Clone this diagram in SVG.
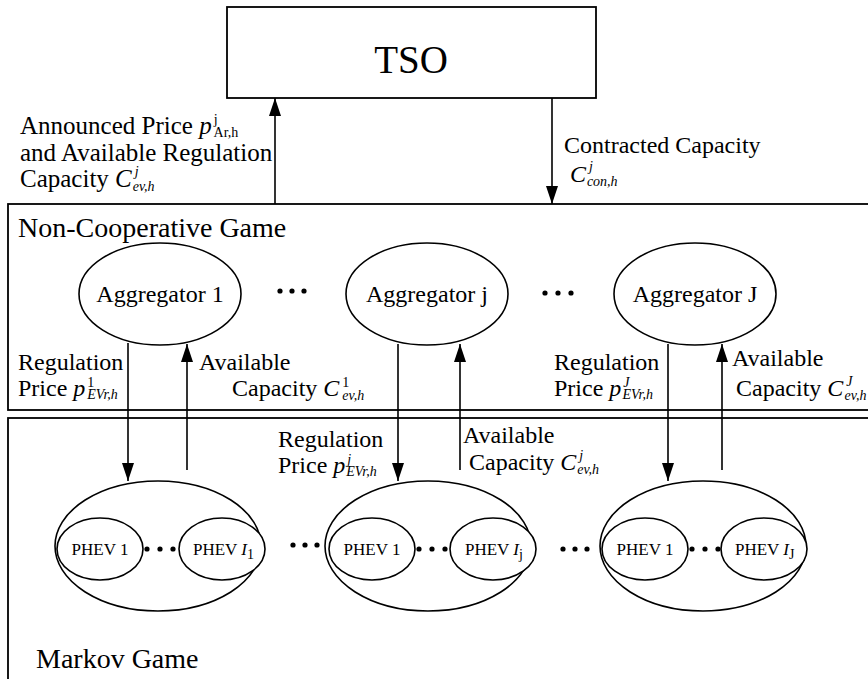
<svg xmlns="http://www.w3.org/2000/svg" width="868" height="679" viewBox="0 0 868 679">
<defs>
<marker id="ah" viewBox="0 0 18 12" refX="18" refY="6" markerWidth="18" markerHeight="12" markerUnits="userSpaceOnUse" orient="auto">
<path d="M0,0 L18,6 L0,12 z" fill="#000"/>
</marker>
<style>
text{font-family:"Liberation Serif","Times New Roman",serif;fill:#000}
.lbl{font-size:24px}
.big{font-size:25px}
.agg{font-size:24px}
.ph{font-size:17px}
.it{font-style:italic}
.sub{font-size:14px}
.sup{font-size:14px}
.box{fill:none;stroke:#000;stroke-width:1.8}
.el{fill:#fff;stroke:#000;stroke-width:1.6}
.ln{stroke:#000;stroke-width:1.6;fill:none}
.dot{fill:#000}
</style>
</defs>
<rect width="868" height="679" fill="#fff"/>

<g id="tso">
<rect class="box" x="227" y="7" width="369" height="91"/>
<text x="411" y="73" text-anchor="middle" style="font-size:39px">TSO</text>
</g>

<g id="noncoop">
<rect class="box" x="8" y="204" width="870" height="206"/>
<text x="18" y="237" style="font-size:28px">Non-Cooperative Game</text>
</g>

<g id="markov">
<rect class="box" x="8" y="418" width="870" height="280"/>
<text x="36" y="668" style="font-size:28px">Markov Game</text>
</g>

<g id="agg1">
<ellipse class="el" cx="160" cy="294" rx="81" ry="51"/>
<text class="agg" x="160" y="302" text-anchor="middle">Aggregator 1</text>
</g>
<g id="aggj">
<ellipse class="el" cx="427" cy="294" rx="81" ry="51"/>
<text class="agg" x="427" y="302" text-anchor="middle">Aggregator j</text>
</g>
<g id="aggJ">
<ellipse class="el" cx="695" cy="294" rx="81" ry="51"/>
<text class="agg" x="695" y="302" text-anchor="middle">Aggregator J</text>
</g>
<g id="aggdots">
<circle class="dot" cx="280" cy="291" r="2.6"/><circle class="dot" cx="292" cy="291" r="2.6"/><circle class="dot" cx="304" cy="291" r="2.6"/>
<circle class="dot" cx="545" cy="293" r="2.6"/><circle class="dot" cx="558" cy="293" r="2.6"/><circle class="dot" cx="571" cy="293" r="2.6"/>
</g>

<g id="group1">
<ellipse class="el" cx="158" cy="546" rx="103" ry="65"/>
<ellipse class="el" cx="100" cy="549" rx="43" ry="31"/>
<ellipse class="el" cx="222" cy="549" rx="43" ry="31"/>
<text class="ph" x="100" y="555" text-anchor="middle">PHEV 1</text>
<text class="ph" x="193" y="555">PHEV <tspan class="it">I</tspan><tspan class="sub" dy="4">1</tspan></text>
<circle class="dot" cx="147" cy="549" r="2.6"/><circle class="dot" cx="160" cy="549" r="2.6"/><circle class="dot" cx="173" cy="549" r="2.6"/>
</g>
<g id="groupj">
<ellipse class="el" cx="428" cy="546" rx="103" ry="65"/>
<ellipse class="el" cx="372" cy="549" rx="43" ry="31"/>
<ellipse class="el" cx="493" cy="549" rx="43" ry="31"/>
<text class="ph" x="372" y="555" text-anchor="middle">PHEV 1</text>
<text class="ph" x="465" y="555">PHEV <tspan class="it">I</tspan><tspan class="sub" dy="4">j</tspan></text>
<circle class="dot" cx="419" cy="549" r="2.6"/><circle class="dot" cx="432" cy="549" r="2.6"/><circle class="dot" cx="445" cy="549" r="2.6"/>
</g>
<g id="groupJ">
<ellipse class="el" cx="703" cy="546" rx="103" ry="65"/>
<ellipse class="el" cx="645" cy="549" rx="43" ry="31"/>
<ellipse class="el" cx="764" cy="549" rx="43" ry="31"/>
<text class="ph" x="645" y="555" text-anchor="middle">PHEV 1</text>
<text class="ph" x="735" y="555">PHEV <tspan class="it">I</tspan><tspan class="sub" dy="4">J</tspan></text>
<circle class="dot" cx="692" cy="549" r="2.6"/><circle class="dot" cx="705" cy="549" r="2.6"/><circle class="dot" cx="718" cy="549" r="2.6"/>
</g>
<g id="groupdots">
<circle class="dot" cx="293" cy="545" r="2.6"/><circle class="dot" cx="305" cy="545" r="2.6"/><circle class="dot" cx="317" cy="545" r="2.6"/>
<circle class="dot" cx="563" cy="549" r="2.6"/><circle class="dot" cx="575" cy="549" r="2.6"/><circle class="dot" cx="587" cy="549" r="2.6"/>
</g>

<g id="connectors">
<line class="ln" x1="275" y1="204" x2="275" y2="98" marker-end="url(#ah)"/>
<line class="ln" x1="552" y1="98" x2="552" y2="204" marker-end="url(#ah)"/>
<line class="ln" x1="128" y1="343" x2="128" y2="481" marker-end="url(#ah)"/>
<line class="ln" x1="187" y1="470" x2="187" y2="344" marker-end="url(#ah)"/>
<line class="ln" x1="398" y1="344" x2="398" y2="481" marker-end="url(#ah)"/>
<line class="ln" x1="460" y1="470" x2="460" y2="344" marker-end="url(#ah)"/>
<line class="ln" x1="668" y1="344" x2="668" y2="481" marker-end="url(#ah)"/>
<line class="ln" x1="722" y1="470" x2="722" y2="344" marker-end="url(#ah)"/>
</g>

<g id="labels">
<text class="big" x="20" y="134">Announced Price <tspan class="it">p</tspan><tspan class="sup" dx="2" dy="-10">j</tspan><tspan class="sub" dx="-4" dy="13">Ar,h</tspan></text>
<text class="big" x="20" y="161">and Available Regulation</text>
<text class="big" x="20" y="187">Capacity <tspan class="it">C</tspan><tspan class="sup it" dx="3" dy="-11">j</tspan><tspan class="sub it" dx="-6" dy="15">ev,h</tspan></text>

<text class="lbl" x="564" y="153">Contracted Capacity</text>
<text class="lbl" x="570" y="182"><tspan class="it">C</tspan><tspan class="sup it" dx="3" dy="-11">j</tspan><tspan class="sub it" dx="-6" dy="15">con,h</tspan></text>

<text class="lbl" x="18" y="370">Regulation</text>
<text class="lbl" x="18" y="396">Price <tspan class="it">p</tspan><tspan class="sup" dx="2" dy="-9">1</tspan><tspan class="sub it" dx="-7" dy="12">EVr,h</tspan></text>
<text class="lbl" x="199" y="370">Available</text>
<text class="lbl" x="232" y="396">Capacity <tspan class="it">C</tspan><tspan class="sup" dx="3" dy="-9">1</tspan><tspan class="sub it" dx="-7" dy="13">ev,h</tspan></text>

<text class="lbl" x="278" y="447">Regulation</text>
<text class="lbl" x="278" y="473">Price <tspan class="it">p</tspan><tspan class="sup it" dx="2" dy="-9">j</tspan><tspan class="sub it" dx="-5" dy="12">EVr,h</tspan></text>
<text class="lbl" x="463" y="443">Available</text>
<text class="lbl" x="469" y="470">Capacity <tspan class="it">C</tspan><tspan class="sup it" dx="3" dy="-10">j</tspan><tspan class="sub it" dx="-6" dy="14">ev,h</tspan></text>

<text class="lbl" x="554" y="370">Regulation</text>
<text class="lbl" x="554" y="396">Price <tspan class="it">p</tspan><tspan class="sup it" dx="2" dy="-9">J</tspan><tspan class="sub it" dx="-7" dy="12">EVr,h</tspan></text>
<text class="lbl" x="732" y="366">Available</text>
<text class="lbl" x="736" y="396">Capacity <tspan class="it">C</tspan><tspan class="sup it" dx="3" dy="-10">J</tspan><tspan class="sub it" dx="-8" dy="14">ev,h</tspan></text>
</g>
</svg>
